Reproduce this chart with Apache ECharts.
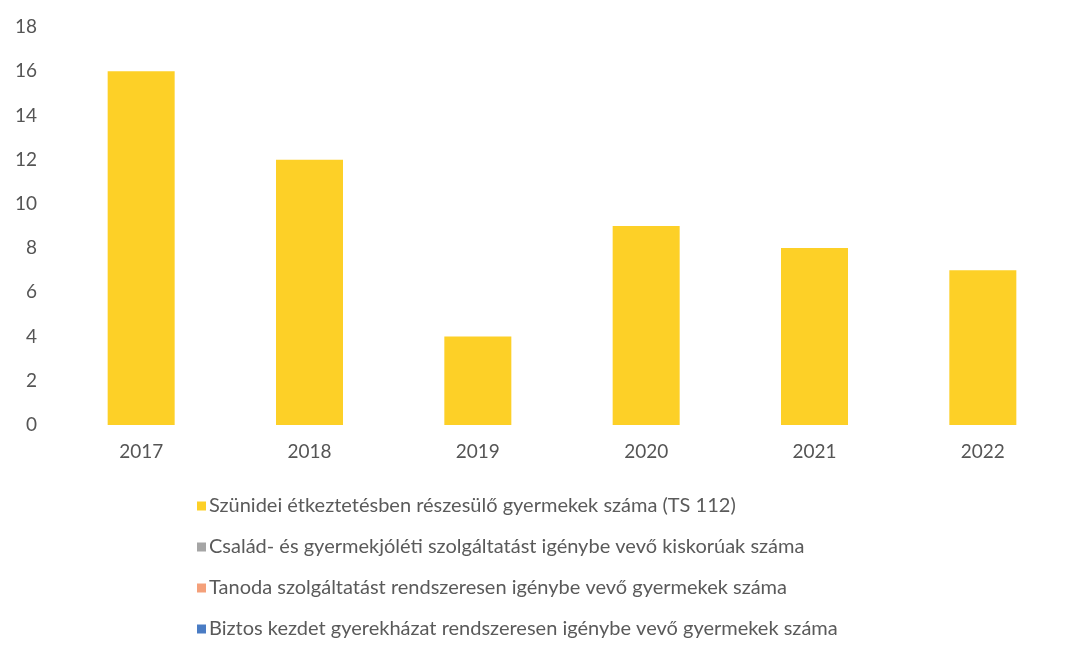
<!DOCTYPE html>
<html>
<head>
<meta charset="utf-8">
<script src="https://cdn.jsdelivr.net/npm/echarts@6/dist/echarts.min.js"></script>
<style>
html,body{margin:0;padding:0;background:#fff;}
#c{width:1083px;height:647px;}
</style>
</head>
<body>
<div id="c"></div>
<script>
var categories = ['2017', '2018', '2019', '2020', '2021', '2022'];
var seriesNames = [
  'Szünidei étkeztetésben részesülő gyermekek száma (TS 112)',
  'Család- és gyermekjóléti szolgáltatást igénybe vevő kiskorúak száma',
  'Tanoda szolgáltatást rendszeresen igénybe vevő gyermekek száma',
  'Biztos kezdet gyerekházat rendszeresen igénybe vevő gyermekek száma'
];
var szunideiValues = [16, 12, 4, 9, 8, 7];
var csaladValues = [];
var tanodaValues = [];
var biztosValues = [];
var yTicks = [0, 2, 4, 6, 8, 10, 12, 14, 16, 18];

var colors = ['#FDD027', '#A5A5A5', '#F4A07A', '#4A7CC4'];
var dataSets = [szunideiValues, csaladValues, tanodaValues, biztosValues];
var font = 'Lato, "Open Sans", sans-serif';

var chart = echarts.init(document.getElementById('c'));
chart.setOption({
  animation: false,
  color: colors,
  textStyle: {fontFamily: font},
  grid: {left: 57, right: 16, top: 27, bottom: 222, containLabel: false},
  legend: {
    orient: 'vertical',
    left: 197,
    top: 496,
    padding: 0,
    height: 150,
    itemGap: 21,
    itemWidth: 9,
    itemHeight: 9,
    icon: 'rect',
    data: seriesNames,
    textStyle: {fontSize: 20, color: '#5a5a5a', fontFamily: font, padding: [0, 0, 0, -2]}
  },
  xAxis: {
    type: 'category',
    data: categories,
    axisLine: {show: false},
    axisTick: {show: false},
    axisLabel: {fontSize: 19, color: '#555', margin: 17, fontFamily: font}
  },
  yAxis: {
    type: 'value',
    min: yTicks[0],
    max: yTicks[yTicks.length - 1],
    interval: 2,
    splitLine: {show: false},
    axisLine: {show: false},
    axisTick: {show: false},
    axisLabel: {fontSize: 19, color: '#555', margin: 20, fontFamily: font}
  },
  series: seriesNames.map(function (n, i) {
    return {
      name: n,
      type: 'bar',
      data: dataSets[i],
      barWidth: 67,
      barGap: '-100%',
      itemStyle: {color: colors[i]}
    };
  })
});
</script>
</body>
</html>
